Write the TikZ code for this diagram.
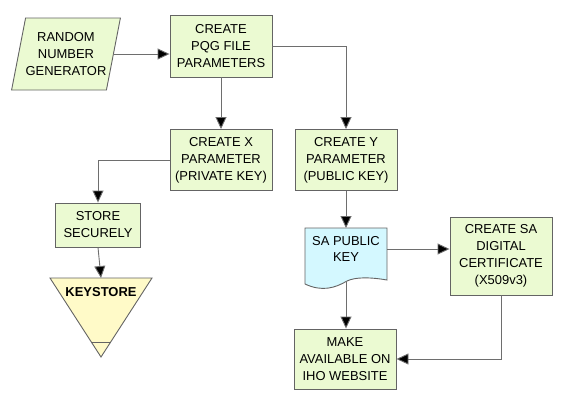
\documentclass[tikz,border=0pt]{standalone}
\usepackage{fontspec}
\setmainfont{Liberation Sans}
\usetikzlibrary{shapes.geometric,arrows.meta}
\definecolor{boxgreen}{RGB}{235,250,210}
\definecolor{docblue}{RGB}{212,248,255}
\definecolor{storeyellow}{RGB}{255,250,200}
\definecolor{edgegray}{RGB}{100,100,100}
\definecolor{linegray}{RGB}{110,110,110}

\begin{document}
\begin{tikzpicture}[x=1bp, y=-1bp,
  every node/.style={font=\fontsize{13}{17}\selectfont, align=center, inner sep=0pt},
  procbox/.style={draw=edgegray, fill=boxgreen, line width=0.9bp, minimum width=102bp},
  flow/.style={draw=linegray, line width=0.9bp, -{Triangle[length=12bp,width=11bp,fill=black]}}]
\useasboundingbox (0,0) rectangle (564,410);
\node[procbox, trapezium, trapezium left angle=72, trapezium right angle=108, trapezium stretches=true, minimum width=108bp, minimum height=72bp] (RNG) at (66,54) {RANDOM\\NUMBER\\GENERATOR};
\node[procbox, minimum height=62bp] (PQG) at (221,46) {CREATE\\PQG FILE\\PARAMETERS};
\node[procbox, minimum height=61bp] (XPAR) at (221,160) {CREATE X\\PARAMETER\\(PRIVATE KEY)};
\node[procbox, minimum height=61bp] (YPAR) at (346,160) {CREATE Y\\PARAMETER\\(PUBLIC KEY)};
\node[procbox, minimum width=85bp, minimum height=44bp] (STORE) at (98,225) {STORE\\SECURELY};
\node[procbox, minimum height=78bp] (CERT) at (501,256) {CREATE SA\\DIGITAL\\CERTIFICATE\\(X509v3)};
\node[procbox, minimum height=60bp] (WEB) at (345,359) {MAKE\\AVAILABLE ON\\IHO WEBSITE};
% document shape
\draw[draw=edgegray, fill=docblue, line width=0.9bp] (305,228) -- (387,228) -- (387,280)
  .. controls (370,277) and (355,277) .. (347,281)
  .. controls (335,288) and (322,292) .. (305,284) -- cycle;
\node (SAPK) at (346,249) {SA PUBLIC\\KEY};
\coordinate (SAPKT) at (346,228);
\coordinate (SAPKB) at (346,282);
% keystore
\draw[draw=edgegray, fill=storeyellow, line width=0.9bp] (50,278) -- (152,278) -- (101,357) -- cycle;
\draw[draw=edgegray, line width=0.9bp] (91.3,342) -- (110.7,342);
\node[font=\fontsize{13}{17}\selectfont\bfseries] (KEYS) at (101,292) {KEYSTORE};
\coordinate (KTOP) at (101,278);
\draw[flow] (RNG.east) -- (RNG.east -| PQG.west);
\draw[flow] (PQG.south) -- (XPAR.north);
\draw[flow] (PQG.east) -| (YPAR.north);
\draw[flow] (XPAR.west) -| (STORE.north);
\draw[flow] (STORE.south) -- (KTOP);
\draw[flow] (YPAR.south) -- (SAPKT);
\draw[flow] (SAPK.east -| 387,0) -- (CERT.west |- SAPK.east);
\draw[flow] (SAPKB) -- (SAPKB |- WEB.north);
\draw[flow] (CERT.south) |- (WEB.east);
\end{tikzpicture}
\end{document}
